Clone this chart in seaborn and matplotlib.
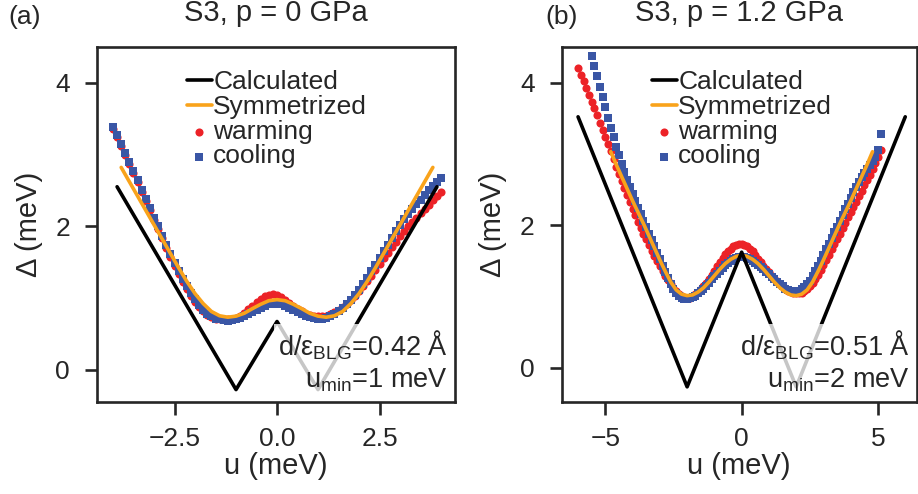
import matplotlib.pyplot as plt
import seaborn as sns

sns.set_style("ticks")
plt.rcParams['font.family'] = ['Liberation Sans', 'DejaVu Sans']
plt.rcParams['mathtext.default'] = 'regular'
plt.rcParams['font.size'] = 19

RED = '#ec2227'
BLUE = '#3a56a5'
ORANGE = '#f9a31b'

# ---- panel (a): p = 0 GPa ----
u_a = [-4.0, -3.9, -3.8, -3.7, -3.6, -3.5, -3.4, -3.3, -3.2, -3.1,
       -3.0, -2.9, -2.8, -2.7, -2.6, -2.5, -2.4, -2.3, -2.2, -2.1,
       -2.0, -1.9, -1.8, -1.7, -1.6, -1.5, -1.4, -1.3, -1.2, -1.1,
       -1.0, -0.9, -0.8, -0.7, -0.6, -0.5, -0.4, -0.3, -0.2, -0.1,
       0.0, 0.1, 0.2, 0.3, 0.4, 0.5, 0.6, 0.7, 0.8, 0.9,
       1.0, 1.1, 1.2, 1.3, 1.4, 1.5, 1.6, 1.7, 1.8, 1.9,
       2.0, 2.1, 2.2, 2.3, 2.4, 2.5, 2.6, 2.7, 2.8, 2.9,
       3.0, 3.1, 3.2, 3.3, 3.4, 3.5, 3.6, 3.7, 3.8, 3.9,
       4.0]
warm_a = [3.36, 3.24, 3.12, 2.99, 2.87, 2.74, 2.61, 2.48, 2.35, 2.22,
          2.09, 1.96, 1.83, 1.70, 1.57, 1.45, 1.33, 1.22, 1.12, 1.03,
          0.94, 0.87, 0.81, 0.76, 0.73, 0.71, 0.70, 0.70, 0.70, 0.71,
          0.72, 0.75, 0.79, 0.84, 0.89, 0.94, 0.98, 1.02, 1.04, 1.05,
          1.04, 1.01, 0.97, 0.93, 0.89, 0.85, 0.81, 0.78, 0.76, 0.75,
          0.74, 0.74, 0.75, 0.77, 0.80, 0.83, 0.87, 0.92, 0.97, 1.03,
          1.09, 1.16, 1.23, 1.31, 1.39, 1.47, 1.55, 1.63, 1.71, 1.78,
          1.86, 1.93, 2.00, 2.06, 2.12, 2.18, 2.24, 2.30, 2.36, 2.42,
          2.47]
cool_a = [3.39, 3.27, 3.15, 3.02, 2.90, 2.77, 2.64, 2.51, 2.38, 2.25,
          2.12, 2.00, 1.87, 1.74, 1.61, 1.49, 1.37, 1.26, 1.16, 1.07,
          0.98, 0.90, 0.83, 0.78, 0.74, 0.71, 0.70, 0.69, 0.68, 0.69,
          0.70, 0.72, 0.74, 0.77, 0.80, 0.83, 0.86, 0.89, 0.91, 0.92,
          0.92, 0.91, 0.89, 0.86, 0.83, 0.80, 0.77, 0.75, 0.73, 0.72,
          0.71, 0.71, 0.72, 0.74, 0.77, 0.81, 0.86, 0.91, 0.97, 1.04,
          1.11, 1.19, 1.28, 1.37, 1.46, 1.55, 1.65, 1.74, 1.84, 1.93,
          2.02, 2.10, 2.17, 2.24, 2.31, 2.37, 2.43, 2.50, 2.56, 2.62,
          2.67]
u_sym_a = [-3.8, -3.6, -3.4, -3.2, -3.0, -2.8, -2.6, -2.4, -2.2, -2.0,
           -1.8, -1.6, -1.4, -1.2, -1.0, -0.8, -0.6, -0.4, -0.2, 0.0,
           0.2, 0.4, 0.6, 0.8, 1.0, 1.2, 1.4, 1.6, 1.8, 2.0,
           2.2, 2.4, 2.6, 2.8, 3.0, 3.2, 3.4, 3.6, 3.8]
sym_a = [2.82, 2.62, 2.42, 2.22, 2.02, 1.82, 1.62, 1.42, 1.23, 1.06,
         0.92, 0.81, 0.75, 0.73, 0.745, 0.785, 0.85, 0.91, 0.96, 0.975,
         0.96, 0.91, 0.85, 0.785, 0.745, 0.73, 0.75, 0.81, 0.92, 1.06,
         1.23, 1.42, 1.62, 1.82, 2.02, 2.22, 2.42, 2.62, 2.82]
u_calc_a = [-3.9, -1.0, 0.0, 1.0, 3.9]
calc_a = [2.55, -0.28, 0.67, -0.28, 2.55]

# ---- panel (b): p = 1.2 GPa ----
u_warm_b = [-6.0, -5.9, -5.8, -5.7, -5.6, -5.5, -5.4, -5.3, -5.2, -5.1,
            -5.0, -4.9, -4.8, -4.7, -4.6, -4.5, -4.4, -4.3, -4.2, -4.1,
            -4.0, -3.9, -3.8, -3.7, -3.6, -3.5, -3.4, -3.3, -3.2, -3.1,
            -3.0, -2.9, -2.8, -2.7, -2.6, -2.5, -2.4, -2.3, -2.2, -2.1,
            -2.0, -1.9, -1.8, -1.7, -1.6, -1.5, -1.4, -1.3, -1.2, -1.1,
            -1.0, -0.9, -0.8, -0.7, -0.6, -0.5, -0.4, -0.3, -0.2, -0.1,
            0.0, 0.1, 0.2, 0.3, 0.4, 0.5, 0.6, 0.7, 0.8, 0.9,
            1.0, 1.1, 1.2, 1.3, 1.4, 1.5, 1.6, 1.7, 1.8, 1.9,
            2.0, 2.1, 2.2, 2.3, 2.4, 2.5, 2.6, 2.7, 2.8, 2.9,
            3.0, 3.1, 3.2, 3.3, 3.4, 3.5, 3.6, 3.7, 3.8, 3.9,
            4.0, 4.1, 4.2, 4.3, 4.4, 4.5, 4.6, 4.7, 4.8, 4.9,
            5.0, 5.1]
warm_b = [4.21, 4.11, 4.02, 3.92, 3.83, 3.73, 3.64, 3.54, 3.44, 3.34,
          3.24, 3.14, 3.04, 2.93, 2.82, 2.72, 2.62, 2.52, 2.42, 2.32,
          2.23, 2.14, 2.05, 1.96, 1.88, 1.80, 1.72, 1.64, 1.57, 1.50,
          1.43, 1.36, 1.29, 1.23, 1.17, 1.12, 1.07, 1.03, 1.00, 0.98,
          0.97, 0.98, 1.00, 1.03, 1.06, 1.10, 1.14, 1.19, 1.24, 1.30,
          1.36, 1.42, 1.48, 1.54, 1.59, 1.63, 1.67, 1.70, 1.72, 1.73,
          1.73, 1.72, 1.70, 1.67, 1.63, 1.58, 1.53, 1.48, 1.43, 1.38,
          1.34, 1.29, 1.25, 1.21, 1.17, 1.14, 1.11, 1.08, 1.06, 1.05,
          1.04, 1.04, 1.05, 1.07, 1.10, 1.14, 1.19, 1.24, 1.30, 1.37,
          1.44, 1.51, 1.58, 1.66, 1.73, 1.81, 1.88, 1.96, 2.03, 2.11,
          2.18, 2.26, 2.33, 2.41, 2.48, 2.56, 2.63, 2.71, 2.79, 2.87,
          2.95, 3.05]
u_cool_b = [-5.5, -5.4, -5.3, -5.2, -5.1, -5.0, -4.9, -4.8, -4.7, -4.6,
            -4.5, -4.4, -4.3, -4.2, -4.1, -4.0, -3.9, -3.8, -3.7, -3.6,
            -3.5, -3.4, -3.3, -3.2, -3.1, -3.0, -2.9, -2.8, -2.7, -2.6,
            -2.5, -2.4, -2.3, -2.2, -2.1, -2.0, -1.9, -1.8, -1.7, -1.6,
            -1.5, -1.4, -1.3, -1.2, -1.1, -1.0, -0.9, -0.8, -0.7, -0.6,
            -0.5, -0.4, -0.3, -0.2, -0.1, 0.0, 0.1, 0.2, 0.3, 0.4,
            0.5, 0.6, 0.7, 0.8, 0.9, 1.0, 1.1, 1.2, 1.3, 1.4,
            1.5, 1.6, 1.7, 1.8, 1.9, 2.0, 2.1, 2.2, 2.3, 2.4,
            2.5, 2.6, 2.7, 2.8, 2.9, 3.0, 3.1, 3.2, 3.3, 3.4,
            3.5, 3.6, 3.7, 3.8, 3.9, 4.0, 4.1, 4.2, 4.3, 4.4,
            4.5, 4.6, 4.7, 4.8, 4.9, 5.0, 5.1]
cool_b = [4.37, 4.23, 4.09, 3.94, 3.80, 3.66, 3.51, 3.37, 3.23, 3.10,
          2.98, 2.86, 2.75, 2.64, 2.54, 2.44, 2.34, 2.24, 2.15, 2.06,
          1.97, 1.88, 1.79, 1.70, 1.61, 1.52, 1.43, 1.34, 1.26, 1.18,
          1.11, 1.05, 1.01, 0.98, 0.96, 0.96, 0.97, 0.99, 1.01, 1.04,
          1.08, 1.11, 1.15, 1.19, 1.24, 1.28, 1.32, 1.36, 1.40, 1.44,
          1.47, 1.50, 1.52, 1.54, 1.55, 1.55, 1.55, 1.54, 1.52, 1.50,
          1.47, 1.44, 1.41, 1.38, 1.34, 1.31, 1.27, 1.24, 1.20, 1.17,
          1.14, 1.11, 1.09, 1.08, 1.07, 1.07, 1.08, 1.10, 1.13, 1.17,
          1.22, 1.28, 1.35, 1.42, 1.50, 1.58, 1.66, 1.74, 1.82, 1.90,
          1.98, 2.06, 2.14, 2.22, 2.30, 2.38, 2.46, 2.54, 2.61, 2.67,
          2.73, 2.79, 2.84, 2.90, 2.96, 3.06, 3.28]
u_sym_b = [-4.8, -4.6, -4.4, -4.2, -4.0, -3.8, -3.6, -3.4, -3.2, -3.0,
           -2.8, -2.6, -2.4, -2.2, -2.0, -1.8, -1.6, -1.4, -1.2, -1.0,
           -0.8, -0.6, -0.4, -0.2, 0.0, 0.2, 0.4, 0.6, 0.8, 1.0,
           1.2, 1.4, 1.6, 1.8, 2.0, 2.2, 2.4, 2.6, 2.8, 3.0,
           3.2, 3.4, 3.6, 3.8, 4.0, 4.2, 4.4, 4.6, 4.8]
sym_b = [3.03, 2.85, 2.68, 2.51, 2.34, 2.18, 2.02, 1.85, 1.68, 1.51,
         1.35, 1.20, 1.09, 1.03, 1.01, 1.02, 1.06, 1.12, 1.20, 1.29,
         1.38, 1.46, 1.52, 1.56, 1.58, 1.56, 1.52, 1.46, 1.38, 1.29,
         1.20, 1.12, 1.06, 1.02, 1.01, 1.03, 1.09, 1.20, 1.35, 1.51,
         1.68, 1.85, 2.02, 2.18, 2.34, 2.51, 2.68, 2.85, 3.03]
u_calc_b = [-6.0, -2.0, 0.0, 2.0, 6.0]
calc_b = [3.52, -0.27, 1.62, -0.27, 3.52]


def draw_panel(ax, u_w, d_w, u_c, d_c, u_s, d_s, u_k, d_k, title, note,
               xlim, ylim, xticks, leg_x):
    sns.scatterplot(x=u_w, y=d_w, ax=ax, color=RED, marker='o', s=34,
                    linewidth=0, label='warming', zorder=2)
    sns.scatterplot(x=u_c, y=d_c, ax=ax, color=BLUE, marker='s', s=28,
                    linewidth=0, label='cooling', zorder=2)
    sns.lineplot(x=u_s, y=d_s, ax=ax, color=ORANGE, lw=2.6,
                 label='Symmetrized', zorder=3)
    sns.lineplot(x=u_k, y=d_k, ax=ax, color='black', lw=2.6,
                 label='Calculated', zorder=3)

    ax.set_xlim(*xlim)
    ax.set_ylim(*ylim)
    ax.set_xticks(xticks)
    ax.set_yticks([0, 2, 4])
    ax.set_xlabel('u (meV)', fontsize=21, labelpad=1)
    ax.set_ylabel('Δ (meV)', fontsize=21, labelpad=9)
    ax.set_title(title, fontsize=21, pad=19)
    ax.tick_params(axis='x', length=9, width=1.9, pad=8.5, labelsize=19)
    ax.tick_params(axis='y', length=9, width=1.9, pad=10.5, labelsize=19)
    for sp in ax.spines.values():
        sp.set_linewidth(1.9)

    handles, labels = ax.get_legend_handles_labels()
    order = [3, 2, 0, 1]
    ax.legend([handles[i] for i in order], [labels[i] for i in order],
              loc='upper left', bbox_to_anchor=(leg_x, 0.935), frameon=False,
              fontsize=19, handlelength=0.95, handletextpad=0.05,
              labelspacing=0.03, borderpad=0, borderaxespad=0)

    ax.text(0.98, 0.025, note, transform=ax.transAxes, ha='right',
            va='bottom', fontsize=19.5, zorder=5,
            bbox=dict(facecolor='white', edgecolor='none', alpha=0.78, pad=3))


fig = plt.figure(figsize=(9.18, 4.94), dpi=100)
ax_a = fig.add_axes([97 / 918, 1 - 402.5 / 494, 358 / 918, 355.5 / 494])
ax_b = fig.add_axes([561.7 / 918, 1 - 402.5 / 494, 355 / 918, 355.5 / 494])

draw_panel(ax_a, u_a, warm_a, u_a, cool_a, u_sym_a, sym_a, u_calc_a, calc_a,
           'S3, p = 0 GPa', 'd/ε$_{BLG}$=0.42 Å\nu$_{min}$=1 meV',
           (-4.39, 4.34), (-0.46, 4.5), [-2.5, 0.0, 2.5], 0.251)
draw_panel(ax_b, u_warm_b, warm_b, u_cool_b, cool_b, u_sym_b, sym_b,
           u_calc_b, calc_b,
           'S3, p = 1.2 GPa', 'd/ε$_{BLG}$=0.51 Å\nu$_{min}$=2 meV',
           (-6.6, 6.42), (-0.49, 4.5), [-5, 0, 5], 0.254)

fig.text(8 / 918, 1 - 5 / 494, '(a)', ha='left', va='top', fontsize=19)
fig.text(545 / 918, 1 - 5 / 494, '(b)', ha='left', va='top', fontsize=19)

fig.savefig('out.png', dpi=100)
